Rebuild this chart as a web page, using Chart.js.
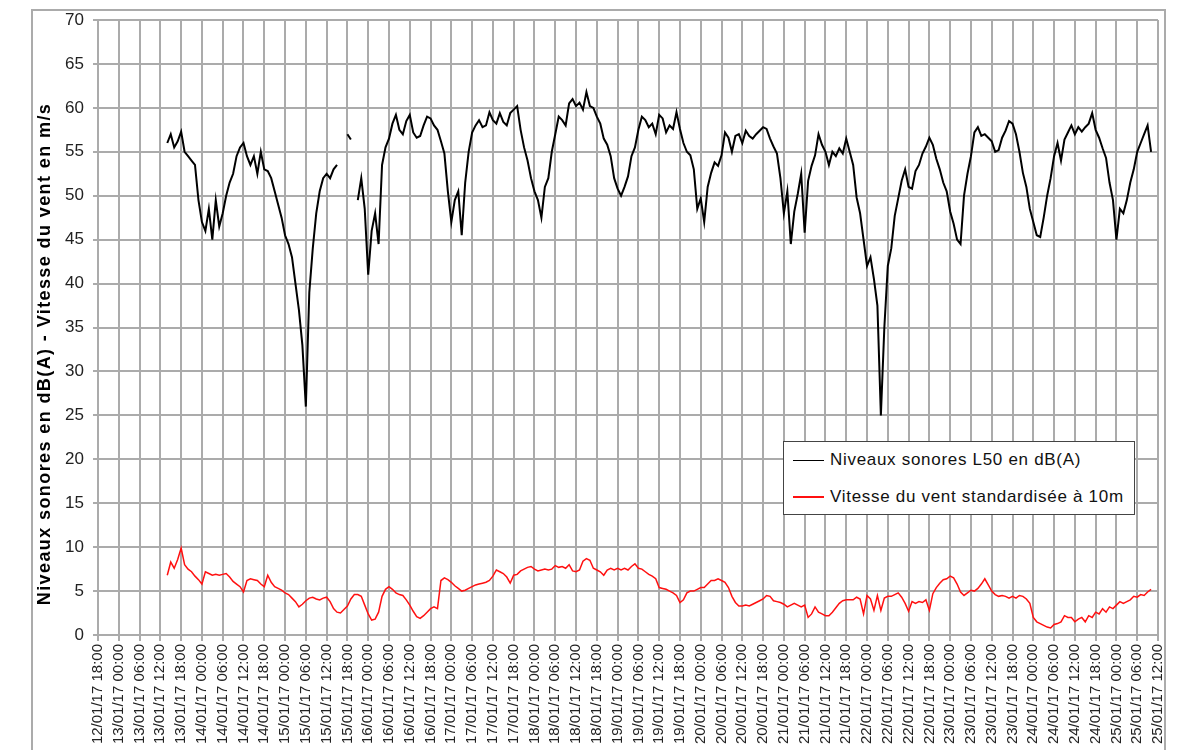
<!DOCTYPE html>
<html lang="fr">
<head>
<meta charset="utf-8">
<title>Niveaux sonores L50 et vitesse du vent</title>
<script src="https://cdn.jsdelivr.net/npm/chart.js@4.4.1/dist/chart.umd.min.js"></script>
<style>
  html, body { margin: 0; padding: 0; background: #fff; overflow: hidden; }
  #wrap { position: relative; width: 1180px; height: 750px; }
  #frame {
    position: absolute; left: 31px; top: 9px; width: 1135px; height: 800px;
    border: 2px solid #ababab; box-sizing: border-box; pointer-events: none;
  }
  #legend {
    position: absolute; left: 783px; top: 441px; width: 352px; height: 74px;
    border: 1.5px solid #444; background: #fff; box-sizing: border-box;
    font-family: "Liberation Sans", Arial, sans-serif; font-size: 17px;
    letter-spacing: 0.7px; color: #111;
  }
  .row { position: absolute; left: 9px; height: 20px; display: flex; align-items: center; white-space: nowrap; }
  .row .swatch { width: 31px; margin-right: 6px; }
</style>
</head>
<body>
<div id="wrap">
  <canvas id="chart" width="1180" height="750"></canvas>
  <div id="frame"></div>
  <div id="legend"></div>
</div>
<script>
// Axis text
const yTitle = 'Niveaux sonores en dB(A) - Vitesse du vent en m/s';
const tickLabels = [
  '12/01/17 18:00',
  '13/01/17 00:00', '13/01/17 06:00', '13/01/17 12:00', '13/01/17 18:00',
  '14/01/17 00:00', '14/01/17 06:00', '14/01/17 12:00', '14/01/17 18:00',
  '15/01/17 00:00', '15/01/17 06:00', '15/01/17 12:00', '15/01/17 18:00',
  '16/01/17 00:00', '16/01/17 06:00', '16/01/17 12:00', '16/01/17 18:00',
  '17/01/17 00:00', '17/01/17 06:00', '17/01/17 12:00', '17/01/17 18:00',
  '18/01/17 00:00', '18/01/17 06:00', '18/01/17 12:00', '18/01/17 18:00',
  '19/01/17 00:00', '19/01/17 06:00', '19/01/17 12:00', '19/01/17 18:00',
  '20/01/17 00:00', '20/01/17 06:00', '20/01/17 12:00', '20/01/17 18:00',
  '21/01/17 00:00', '21/01/17 06:00', '21/01/17 12:00', '21/01/17 18:00',
  '22/01/17 00:00', '22/01/17 06:00', '22/01/17 12:00', '22/01/17 18:00',
  '23/01/17 00:00', '23/01/17 06:00', '23/01/17 12:00', '23/01/17 18:00',
  '24/01/17 00:00', '24/01/17 06:00', '24/01/17 12:00', '24/01/17 18:00',
  '25/01/17 00:00', '25/01/17 06:00', '25/01/17 12:00'
];
const tickStepHours = 6;

// Series: one value per hour, hour 0 = 12/01/17 18:00
const levelLabel = 'Niveaux sonores L50 en dB(A)';
const levelStartHour = 20;
const levelValues = [
  56.0, 57.0, 55.5, 56.2, 57.3, 55.0, 54.5, 54.0, 53.5, 49.5,
  47.0, 46.0, 48.5, 45.0, 49.5, 46.5, 48.0, 50.0, 51.5, 52.5,
  54.5, 55.5, 56.0, 54.5, 53.5, 54.5, 52.5, 55.0, 53.0, 52.8,
  52.0, 50.5, 49.0, 47.5, 45.5, 44.5, 43.0, 40.0, 37.0, 33.0,
  26.0, 39.0, 44.0, 48.0, 50.5, 52.0, 52.5, 52.0, 53.0, 53.5,
  null, null, 57.0, 56.4, null, 49.5, 52.0, 48.5, 41.0, 46.0,
  48.0, 44.5, 53.5, 55.5, 56.5, 58.2, 59.2, 57.5, 57.0, 58.5,
  59.2, 57.2, 56.6, 56.8, 58.0, 59.0, 58.8, 58.0, 57.5, 56.2,
  54.8, 50.5, 47.0, 49.5, 50.5, 45.5, 51.5, 55.0, 57.2, 58.0,
  58.6, 57.8, 58.0, 59.5, 58.6, 58.2, 59.4, 58.4, 58.0, 59.4,
  59.8, 60.2, 57.5, 55.5, 54.0, 52.0, 50.5, 49.5, 47.5, 51.0,
  52.0, 55.0, 57.0, 59.0, 58.6, 58.0, 60.5, 61.0, 60.2, 60.6,
  59.8, 61.8, 60.2, 60.0, 59.0, 58.2, 56.5, 55.8, 54.5, 52.0,
  50.8, 50.0, 51.0, 52.2, 54.5, 55.5, 57.5, 59.0, 58.6, 57.8,
  58.2, 57.0, 59.2, 58.8, 57.2, 58.0, 57.6, 59.5, 57.6, 56.0,
  55.0, 54.6, 53.0, 48.5, 49.7, 47.0, 51.0, 52.6, 53.8, 53.4,
  54.6, 57.2, 56.6, 55.0, 56.8, 57.0, 56.0, 57.4, 56.8, 56.5,
  57.0, 57.4, 57.8, 57.6, 56.5, 55.6, 54.8, 52.0, 48.0, 50.5,
  44.5, 48.2, 50.2, 52.5, 45.8, 51.7, 53.4, 54.6, 57.0, 55.8,
  55.0, 53.5, 55.0, 54.5, 55.4, 54.8, 56.5, 55.0, 53.5, 49.8,
  48.0, 45.0, 42.0, 43.0, 40.5, 37.5, 25.0, 35.0, 42.0, 44.0,
  47.7, 49.7, 51.7, 53.0, 51.0, 50.8, 52.8, 53.5, 54.8, 55.6,
  56.6, 55.8, 54.2, 53.0, 51.5, 50.5, 48.2, 46.8, 45.0, 44.5,
  50.0, 52.5, 54.5, 57.2, 57.8, 56.8, 57.0, 56.6, 56.2, 55.0,
  55.2, 56.6, 57.4, 58.5, 58.2, 57.0, 55.0, 52.6, 51.0, 48.5,
  47.0, 45.5, 45.3, 47.5, 50.0, 52.0, 54.5, 56.0, 54.0, 56.4,
  57.2, 58.0, 57.0, 57.8, 57.3, 57.8, 58.2, 59.4, 57.5, 56.6,
  55.4, 54.3, 51.5, 49.5, 45.0, 48.5, 48.0, 49.5, 51.5, 53.0,
  55.0, 56.0, 57.0, 58.0, 55.0
];

const windLabel = 'Vitesse du vent standardisée à 10m';
const windStartHour = 20;
const windValues = [
  6.8, 8.3, 7.6, 8.6, 9.9, 8.0, 7.5, 7.2, 6.7, 6.3,
  5.8, 7.2, 7.0, 6.8, 6.9, 6.8, 6.9, 7.0, 6.6, 6.1,
  5.8, 5.5, 4.9, 6.2, 6.4, 6.3, 6.2, 5.8, 5.5, 6.8,
  6.0, 5.5, 5.3, 5.1, 4.8, 4.6, 4.2, 3.8, 3.2, 3.5,
  3.9, 4.2, 4.3, 4.1, 4.0, 4.2, 4.3, 3.8, 3.0, 2.6,
  2.5, 2.9, 3.3, 4.1, 4.6, 4.6, 4.4, 3.4, 2.4, 1.7,
  1.8, 2.6, 4.4, 5.2, 5.5, 5.2, 4.8, 4.6, 4.5, 4.0,
  3.4, 2.7, 2.1, 1.9, 2.2, 2.6, 3.0, 3.2, 3.0, 6.2,
  6.5, 6.3, 6.0, 5.6, 5.3, 5.0, 5.1, 5.3, 5.5, 5.7,
  5.8, 5.9, 6.0, 6.2, 6.7, 7.4, 7.2, 7.0, 6.6, 5.9,
  6.8, 6.9, 7.3, 7.5, 7.7, 7.8, 7.5, 7.3, 7.4, 7.5,
  7.4, 7.5, 7.9, 7.7, 7.8, 7.6, 8.0, 7.3, 7.2, 7.4,
  8.4, 8.7, 8.5, 7.6, 7.4, 7.2, 6.8, 7.4, 7.6, 7.4,
  7.6, 7.4, 7.6, 7.4, 7.8, 8.1, 7.6, 7.5, 7.2, 6.9,
  6.7, 6.4, 5.4, 5.3, 5.2, 5.0, 4.8, 4.5, 3.7, 4.0,
  4.8, 5.0, 5.0, 5.2, 5.4, 5.4, 5.8, 6.2, 6.2, 6.4,
  6.2, 6.0, 5.4, 4.4, 3.7, 3.3, 3.3, 3.4, 3.3, 3.5,
  3.7, 3.9, 4.1, 4.5, 4.4, 3.9, 3.8, 3.7, 3.5, 3.2,
  3.4, 3.6, 3.4, 3.2, 3.4, 2.0, 2.4, 3.2, 2.6, 2.4,
  2.2, 2.2, 2.6, 3.1, 3.6, 3.9, 4.0, 4.0, 4.0, 4.3,
  4.1, 2.4, 4.5, 4.1, 2.8, 4.5, 2.8, 4.2, 4.4, 4.4,
  4.6, 4.8, 4.3, 3.6, 2.7, 3.8, 3.6, 3.8, 3.7, 4.0,
  2.8, 4.7, 5.4, 5.9, 6.3, 6.4, 6.7, 6.5, 5.8, 4.9,
  4.5, 4.8, 5.1, 5.0, 5.3, 5.8, 6.4, 5.7, 5.0, 4.6,
  4.4, 4.5, 4.4, 4.2, 4.4, 4.2, 4.5, 4.4, 4.1, 3.6,
  2.0, 1.5, 1.3, 1.1, 0.9, 0.8, 1.2, 1.3, 1.5, 2.2,
  2.0, 2.0, 1.5, 1.8, 2.0, 1.5, 2.2, 2.0, 2.6, 2.4,
  3.0, 2.6, 3.2, 3.0, 3.4, 3.8, 3.6, 3.8, 4.0, 4.4,
  4.3, 4.6, 4.5, 4.9, 5.2
];

const textFont = '"Liberation Sans", Arial, sans-serif';
const gridColor = '#ababab';

/**
 * Turn an hourly series into {x, y} points
 */
function toPoints(startHour, values) {
    return values.map((v, i) => ({ x: startHour + i, y: v }));
}

/**
 * Rotated title on the left of the value axis
 */
const yTitlePlugin = {
    id: 'yTitle',
    afterDraw(chart) {
        const ctx = chart.ctx;
        ctx.save();
        ctx.translate(45, 354);
        ctx.rotate(-Math.PI / 2);
        ctx.font = 'bold 18px ' + textFont;
        ctx.letterSpacing = '1.4px';
        ctx.fillStyle = '#000';
        ctx.textAlign = 'center';
        ctx.textBaseline = 'middle';
        ctx.fillText(yTitle, 0, 0);
        ctx.restore();
    }
};

const ctx = document.getElementById('chart').getContext('2d');

const chart = new Chart(ctx, {
    type: 'line',
    data: {
        datasets: [{
            label: levelLabel,
            data: toPoints(levelStartHour, levelValues),
            borderColor: '#000000',
            borderWidth: 2,
            pointRadius: 0,
            tension: 0,
            spanGaps: false
        }, {
            label: windLabel,
            data: toPoints(windStartHour, windValues),
            borderColor: '#ff1010',
            borderWidth: 1.5,
            pointRadius: 0,
            tension: 0
        }]
    },
    options: {
        responsive: false,
        animation: false,
        events: [],
        layout: {
            padding: { left: 0, top: 20, right: 22, bottom: 0 }
        },
        scales: {
            x: {
                type: 'linear',
                min: 0,
                max: (tickLabels.length - 1) * tickStepHours,
                afterFit: (scale) => { scale.height = 115; },
                ticks: {
                    stepSize: tickStepHours,
                    autoSkip: false,
                    minRotation: 90,
                    maxRotation: 90,
                    padding: 3,
                    color: '#222',
                    font: { family: textFont, size: 15 },
                    callback: (value) => tickLabels[Math.round(value / tickStepHours)]
                },
                grid: {
                    color: gridColor,
                    lineWidth: 2,
                    tickLength: 6
                },
                border: { color: gridColor, width: 2 }
            },
            y: {
                min: 0,
                max: 70,
                afterFit: (scale) => { scale.width = 98; },
                ticks: {
                    stepSize: 5,
                    padding: 9,
                    color: '#222',
                    font: { family: textFont, size: 17 }
                },
                grid: {
                    color: gridColor,
                    lineWidth: 2,
                    tickLength: 5
                },
                border: { color: gridColor, width: 2 }
            }
        },
        plugins: {
            legend: { display: false },
            tooltip: { enabled: false }
        }
    },
    plugins: [yTitlePlugin]
});

// HTML legend built from the datasets
const legendEl = document.getElementById('legend');
legendEl.innerHTML = chart.data.datasets.map((ds, i) => `
    <div class="row" style="top:${8 + i * 37}px">
        <span class="swatch" style="border-top:${i === 0 ? 1 : 2}px solid ${ds.borderColor}"></span>
        <span>${ds.label}</span>
    </div>
`).join('');
</script>
</body>
</html>
